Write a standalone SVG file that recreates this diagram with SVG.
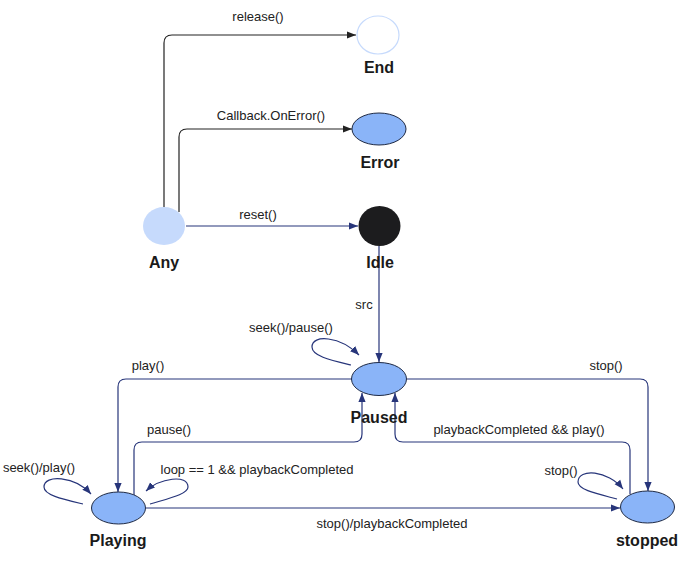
<svg xmlns="http://www.w3.org/2000/svg" width="688" height="569" viewBox="0 0 688 569">
<style>
.st{fill:#8ab4f8;stroke:#1f2a44;stroke-width:1}
.nm{font-family:"Liberation Sans",Arial,sans-serif;font-weight:bold;font-size:16px;fill:#1a1a1a;text-anchor:middle}
.lb{font-family:"Liberation Sans",Arial,sans-serif;font-size:13px;fill:#222;text-anchor:middle}
.e{fill:none;stroke:#27357a;stroke-width:1.2;marker-end:url(#an)}
.k{fill:none;stroke:#222;stroke-width:1.2;marker-end:url(#ak)}
</style>
<defs>
<marker id="an" viewBox="0 0 10 10" refX="10" refY="5" markerWidth="9" markerHeight="9" markerUnits="userSpaceOnUse" orient="auto"><path d="M0,1 L10,5 L0,9 z" fill="#27357a"/></marker>
<marker id="ak" viewBox="0 0 10 10" refX="10" refY="5" markerWidth="9" markerHeight="9" markerUnits="userSpaceOnUse" orient="auto"><path d="M0,1 L10,5 L0,9 z" fill="#222"/></marker>
</defs>
<rect width="688" height="569" fill="#fff"/>
<g id="connectors">
<path class="k" d="M164,207 V43 Q164,35 172,35 H356"/>
<path class="k" d="M179,212 V137 Q179,129 187,129 H352"/>
<path class="e" d="M186,226 H358"/>
<path class="e" d="M379,246 V362"/>
<path class="e" d="M351,365 C330,360 312,356 312,347 C312,334 340,336 359,355"/>
<path class="e" d="M352,379 H126 Q118,379 118,387 V492"/>
<path class="e" d="M134,495 V450 Q134,442 142,442 H354 Q362,442 362,434 V393"/>
<path class="e" d="M630,494 V450 Q630,442 622,442 H403 Q395,442 395,434 V393"/>
<path class="e" d="M407,379 H640 Q648,379 648,387 V491"/>
<path class="e" d="M146,508 H620"/>
<path class="e" d="M83,504 C62,499 44,495 44,487 C44,474 75,476 91,494"/>
<path class="e" d="M150,504 C170,498 188,494 188,487 C188,474 160,478 146,491"/>
<path class="e" d="M617,499 C598,494 578,490 578,482 C578,468 608,470 623,489"/>
<text class="lb" x="258" y="21">release()</text>
<text class="lb" x="271" y="120">Callback.OnError()</text>
<text class="lb" x="258" y="219">reset()</text>
<text class="lb" x="364" y="309">src</text>
<text class="lb" x="291" y="332">seek()/pause()</text>
<text class="lb" x="148" y="370">play()</text>
<text class="lb" x="606" y="370">stop()</text>
<text class="lb" x="169" y="434">pause()</text>
<text class="lb" x="519" y="434">playbackCompleted &amp;&amp; play()</text>
<text class="lb" x="39" y="472">seek()/play()</text>
<text class="lb" x="257" y="474">loop == 1 &amp;&amp; playbackCompleted</text>
<text class="lb" x="561" y="475">stop()</text>
<text class="lb" x="392" y="528">stop()/playbackCompleted</text>
</g>
<g id="End"><ellipse cx="378" cy="35" rx="21" ry="19" fill="#fff" stroke="#c6dafc" stroke-width="1.2"/><text class="nm" x="379" y="73">End</text></g>
<g id="Error"><ellipse class="st" cx="379" cy="129" rx="27" ry="16"/><text class="nm" x="380" y="168">Error</text></g>
<g id="Any"><ellipse cx="164" cy="226" rx="21" ry="19" fill="#c6dafc"/><text class="nm" x="164" y="268">Any</text></g>
<g id="Idle"><ellipse cx="379.5" cy="226" rx="21" ry="20" fill="#1c1c1e"/><text class="nm" x="380" y="268">Idle</text></g>
<g id="Paused"><ellipse class="st" cx="379" cy="379" rx="27.5" ry="16.5"/><text class="nm" x="379" y="423">Paused</text></g>
<g id="Playing"><ellipse class="st" cx="118.5" cy="508" rx="27" ry="16"/><text class="nm" x="118" y="546">Playing</text></g>
<g id="stopped"><ellipse class="st" cx="647.5" cy="507" rx="27" ry="16"/><text class="nm" x="647" y="546">stopped</text></g>
</svg>
